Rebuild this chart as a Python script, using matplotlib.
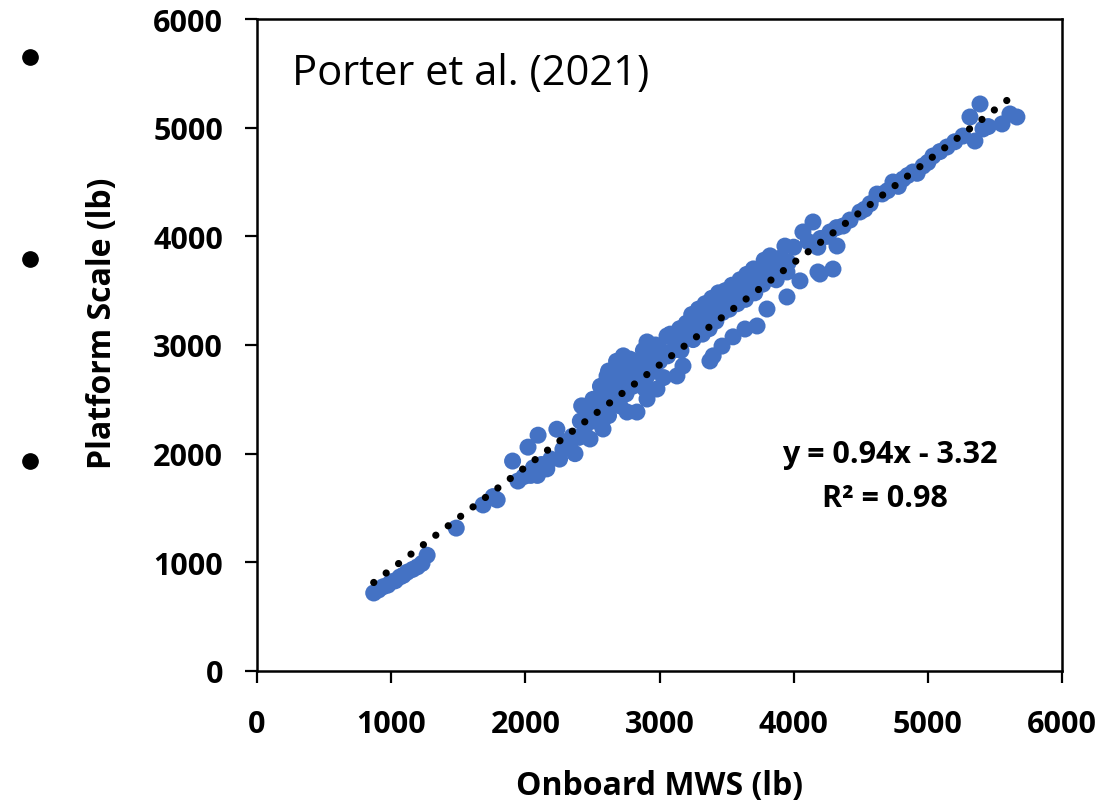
import matplotlib
matplotlib.use("Agg")
import matplotlib.pyplot as plt
from matplotlib.lines import Line2D
import numpy as np

# ---------------- data ----------------
onboard_mws = [
    870, 905, 940, 975, 1000, 1030, 1065, 1090, 1120, 1160, 1195, 1230, 1268,
    1485, 1685, 1760, 1790,
    1905, 1945, 1990, 2020, 2040, 2060, 2090, 2095, 2120, 2160, 2190, 2235, 2255,
    2280, 2300, 2330, 2350, 2370,
    2400, 2410, 2420, 2445, 2470, 2482, 2500, 2504, 2520, 2540, 2560, 2579, 2600,
    2609, 2620, 2631, 2650, 2660, 2680, 2700, 2705, 2720, 2740, 2750, 2758, 2760,
    2780, 2790, 2800, 2820, 2832, 2855, 2860, 2880, 2890, 2900, 2907, 2907, 2930,
    2940, 2960, 2970, 2981, 3000, 3010, 3030, 3056, 3060, 3080, 3100, 3120, 3130,
    3150, 3160, 3175, 3190, 3200, 3220,
    2560, 2620, 2680, 2730, 2580, 2640,
    3240, 3250, 3270, 3290, 3300, 3320, 3340, 3350, 3370, 3390, 3400, 3420, 3440,
    3450, 3470, 3490, 3500, 3520, 3540, 3560, 3580, 3600, 3620, 3640, 3650, 3680,
    3700, 3710, 3730, 3749, 3770, 3780, 3800, 3824, 3850, 3870, 3900, 3935, 3960,
    4000, 4069, 4110, 4144,
    3376, 3400, 3466, 3548, 3637, 3727, 3801, 3950, 3950, 4047, 4181, 4196, 4293,
    4323, 4180, 4250,
    4200, 4271, 4320, 4368, 4420, 4494, 4530, 4570, 4621, 4660, 4700, 4740, 4780,
    4815, 4850, 4889, 4920, 4964, 5000, 5038, 5090, 5143, 5200, 5262, 5314, 5351,
    5389, 5411, 5450, 5553, 5612, 5664,
]
platform_scale = [
    718, 745, 775, 790, 820, 830, 865, 880, 910, 935, 958, 990, 1065,
    1315, 1528, 1605, 1575,
    1932, 1748, 1790, 2060, 1800, 1870, 1800, 2170, 1900, 1860, 1950, 2225, 1950,
    2040, 2110, 2070, 2160, 2000,
    2150, 2300, 2440, 2250, 2380, 2135, 2380, 2500, 2300, 2450, 2350, 2227, 2450,
    2715, 2350, 2595, 2500, 2680, 2560, 2600, 2440, 2750, 2650, 2550, 2383, 2800,
    2870, 2700, 2620, 2780, 2383, 2750, 2850, 2950, 2600, 2700, 3028, 2503, 2820,
    2900, 2760, 3000, 2595, 2850, 2950, 2700, 3083, 2900, 3100, 2950, 3050, 2715,
    3150, 2950, 2807, 3050, 3200, 3100,
    2620, 2760, 2850, 2900, 2540, 2640,
    3280, 3050, 3150, 3330, 3220, 3100, 3380, 3250, 3150, 3430, 3320, 3220, 3480,
    3380, 3300, 3500, 3420, 3330, 3550, 3450, 3380, 3600, 3500, 3420, 3650, 3550,
    3700, 3480, 3620, 3700, 3560, 3780, 3650, 3820, 3720, 3600, 3800, 3910, 3760,
    3900, 4040, 3950, 4132,
    2853, 2900, 2990, 3075, 3147, 3175, 3331, 3442, 3672, 3590, 3672, 3653, 3699,
    3911, 3900, 4000,
    3980, 4040, 4080, 4095, 4150, 4224, 4250, 4300, 4389, 4390, 4420, 4500, 4460,
    4527, 4560, 4592, 4580, 4647, 4680, 4739, 4780, 4822, 4870, 4923, 5098, 4877,
    5218, 4988, 5010, 5034, 5126, 5098,
]
trend_slope = 0.94
trend_intercept = -3.32
r_squared = 0.98
ticks = [0, 1000, 2000, 3000, 4000, 5000, 6000]
tick_labels = ["0", "1000", "2000", "3000", "4000", "5000", "6000"]

# ---------------- figure ----------------
W, H = 1118, 803
fig = plt.figure(figsize=(W / 100, H / 100), dpi=100)
ax_l, ax_r, ax_t, ax_b = 257, 1062, 20, 672
ax = fig.add_axes([ax_l / W, (H - ax_b) / H, (ax_r - ax_l) / W, (ax_b - ax_t) / H])

FONT = "Open Sans"
blue = "#4472C4"

xs = np.array(onboard_mws, dtype=float)
ys = np.array(platform_scale, dtype=float)
ax.scatter(xs, ys, s=150, color=blue, edgecolors="none", zorder=2)

xt = np.array([xs.min(), xs.max()])
ax.plot(xt, trend_slope * xt + trend_intercept, color="black", lw=5.2,
        linestyle=(0, (0.01, 2.15)), dash_capstyle="round", zorder=3)

ax.set_xlim(0, 6000)
ax.set_ylim(0, 6000)
ax.set_xticks(ticks)
ax.set_yticks(ticks)
ax.set_xticklabels(tick_labels)
ax.set_yticklabels(tick_labels)

for sp in ax.spines.values():
    sp.set_linewidth(1.8)
    sp.set_color("black")

ax.tick_params(axis="both", direction="out", length=8.5, width=1.6, color="black")
ax.tick_params(axis="x", pad=19)
ax.tick_params(axis="y", pad=16)
for lab in ax.get_xticklabels() + ax.get_yticklabels():
    lab.set_fontfamily(FONT)
    lab.set_fontweight("bold")
    lab.set_fontsize(22)

ax.set_xlabel("Onboard MWS (lb)", fontfamily=FONT, fontweight="bold", fontsize=23)
ax.set_ylabel("Platform Scale (lb)", fontfamily=FONT, fontweight="bold", fontsize=23)
ax.xaxis.label.set_va("baseline")
ax.xaxis.set_label_coords(0.5, (ax_b - 795) / (ax_b - ax_t))
ax.yaxis.label.set_va("baseline")
ax.yaxis.set_label_coords((111 - ax_l) / (ax_r - ax_l), (ax_b - 323) / (ax_b - ax_t))

ax.text(261, 5402, "Porter et al. (2021)", fontfamily=FONT, fontsize=30,
        ha="left", va="baseline")
ax.text(4718, 1923, "y = %.2fx - %.2f" % (trend_slope, abs(trend_intercept)),
        fontfamily=FONT, fontweight="bold", fontsize=22, ha="center", va="baseline")
ax.text(4680, 1518, "R\u00b2 = %.2f" % r_squared,
        fontfamily=FONT, fontweight="bold", fontsize=22, ha="center", va="baseline")

# slide bullets on the left
for by in (58, 260, 462):
    fig.add_artist(Line2D([30 / W], [(H - by) / H], marker="o", markersize=11,
                          color="black", linestyle="none",
                          transform=fig.transFigure))

fig.savefig("out.png", dpi=100)
